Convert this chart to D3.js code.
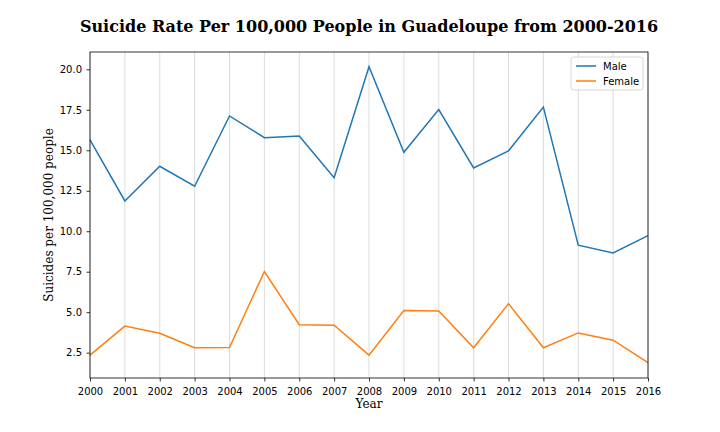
<!DOCTYPE html>
<html>
<head>
<meta charset="utf-8">
<script src="https://cdn.jsdelivr.net/npm/d3@7"></script>
<style>
  body { margin: 0; background: #fff; }
  svg text { fill: #000; }
</style>
</head>
<body>
<div class="chart"></div>
<script>
const years = [2000, 2001, 2002, 2003, 2004, 2005, 2006, 2007, 2008, 2009, 2010, 2011, 2012, 2013, 2014, 2015, 2016];
const maleRates = [15.64, 11.87, 14.01, 12.78, 17.12, 15.78, 15.88, 13.31, 20.16, 14.88, 17.51, 13.91, 14.96, 17.67, 9.14, 8.66, 9.73];
const femaleRates = [2.35, 4.14, 3.70, 2.80, 2.82, 7.51, 4.23, 4.20, 2.35, 5.10, 5.08, 2.80, 5.53, 2.80, 3.72, 3.27, 1.89];
const yTicks = [2.5, 5.0, 7.5, 10.0, 12.5, 15.0, 17.5, 20.0];
const seriesNames = ['Male', 'Female'];
const seriesColors = ['#1f77b4', '#ff7f0e'];

const width = 720, height = 432;
const margin = { top: 52, right: 72, bottom: 54, left: 90 };

const svg = d3.select('.chart').append('svg')
  .attr('width', width)
  .attr('height', height);

const x = d3.scaleLinear().domain([2000, 2016]).range([margin.left, width - margin.right]);
const y = d3.scaleLinear().domain([0.935, 21.07]).range([height - margin.bottom, margin.top]);

// vertical grid at each year
svg.append('g')
  .selectAll('line')
  .data(years)
  .enter()
  .append('line')
  .attr('x1', d => x(d)).attr('x2', d => x(d))
  .attr('y1', margin.top).attr('y2', height - margin.bottom)
  .attr('stroke', '#d3d3d3')
  .attr('stroke-width', 0.8);

const series = [maleRates, femaleRates];
const line = d3.line().x((_d, i) => x(years[i])).y(d => y(d));

svg.append('g')
  .selectAll('path')
  .data(series)
  .enter()
  .append('path')
  .attr('d', d => line(d))
  .attr('fill', 'none')
  .attr('stroke', (_d, i) => seriesColors[i])
  .attr('stroke-width', 1.5);

// axes
const xAxis = svg.append('g')
  .attr('transform', `translate(0,${height - margin.bottom})`)
  .call(d3.axisBottom(x).tickValues(years).tickFormat(d3.format('d')).tickSize(3.5).tickSizeOuter(0));
const yAxis = svg.append('g')
  .attr('transform', `translate(${margin.left},0)`)
  .call(d3.axisLeft(y).tickValues(yTicks).tickFormat(d3.format('.1f')).tickSize(3.5).tickSizeOuter(0));

[xAxis, yAxis].forEach(ax => {
  ax.selectAll('text').attr('font-family', 'DejaVu Sans').attr('font-size', 10).attr('fill', '#000');
  ax.selectAll('line').attr('stroke', '#000').attr('stroke-width', 0.8);
  ax.select('.domain').remove();
});
xAxis.selectAll('text').attr('dy', '1.0em');
yAxis.selectAll('text').attr('dx', '-0.15em');

// frame
svg.append('rect')
  .attr('x', margin.left).attr('y', margin.top)
  .attr('width', width - margin.left - margin.right)
  .attr('height', height - margin.top - margin.bottom)
  .attr('fill', 'none')
  .attr('stroke', '#000')
  .attr('stroke-width', 0.8);

// titles
svg.append('text')
  .attr('x', (margin.left + width - margin.right) / 2)
  .attr('y', 32)
  .attr('text-anchor', 'middle')
  .attr('font-family', 'DejaVu Serif')
  .attr('font-weight', 'bold')
  .attr('font-size', 16)
  .text('Suicide Rate Per 100,000 People in Guadeloupe from 2000-2016');

svg.append('text')
  .attr('x', (margin.left + width - margin.right) / 2)
  .attr('y', 408)
  .attr('text-anchor', 'middle')
  .attr('font-family', 'DejaVu Serif')
  .attr('font-size', 12)
  .text('Year');

svg.append('text')
  .attr('transform', `translate(53,${(margin.top + height - margin.bottom) / 2}) rotate(-90)`)
  .attr('text-anchor', 'middle')
  .attr('font-family', 'DejaVu Serif')
  .attr('font-size', 12)
  .text('Suicides per 100,000 people');

// legend
const legend = svg.append('g').attr('transform', `translate(${width - margin.right - 77},${margin.top + 5})`);
legend.append('rect')
  .attr('width', 72).attr('height', 33)
  .attr('rx', 2.5)
  .attr('fill', '#fff').attr('fill-opacity', 0.8)
  .attr('stroke', '#ccc').attr('stroke-width', 0.8);
const items = legend.selectAll('g.item')
  .data(seriesNames)
  .enter()
  .append('g')
  .attr('class', 'item')
  .attr('transform', (_d, i) => `translate(5,${9 + i * 15})`);
items.append('line')
  .attr('x1', 0).attr('x2', 20)
  .attr('stroke', (_d, i) => seriesColors[i])
  .attr('stroke-width', 1.5);
items.append('text')
  .attr('x', 27).attr('y', 3.5)
  .attr('font-family', 'DejaVu Sans')
  .attr('font-size', 10)
  .text(d => d);
</script>
</body>
</html>
